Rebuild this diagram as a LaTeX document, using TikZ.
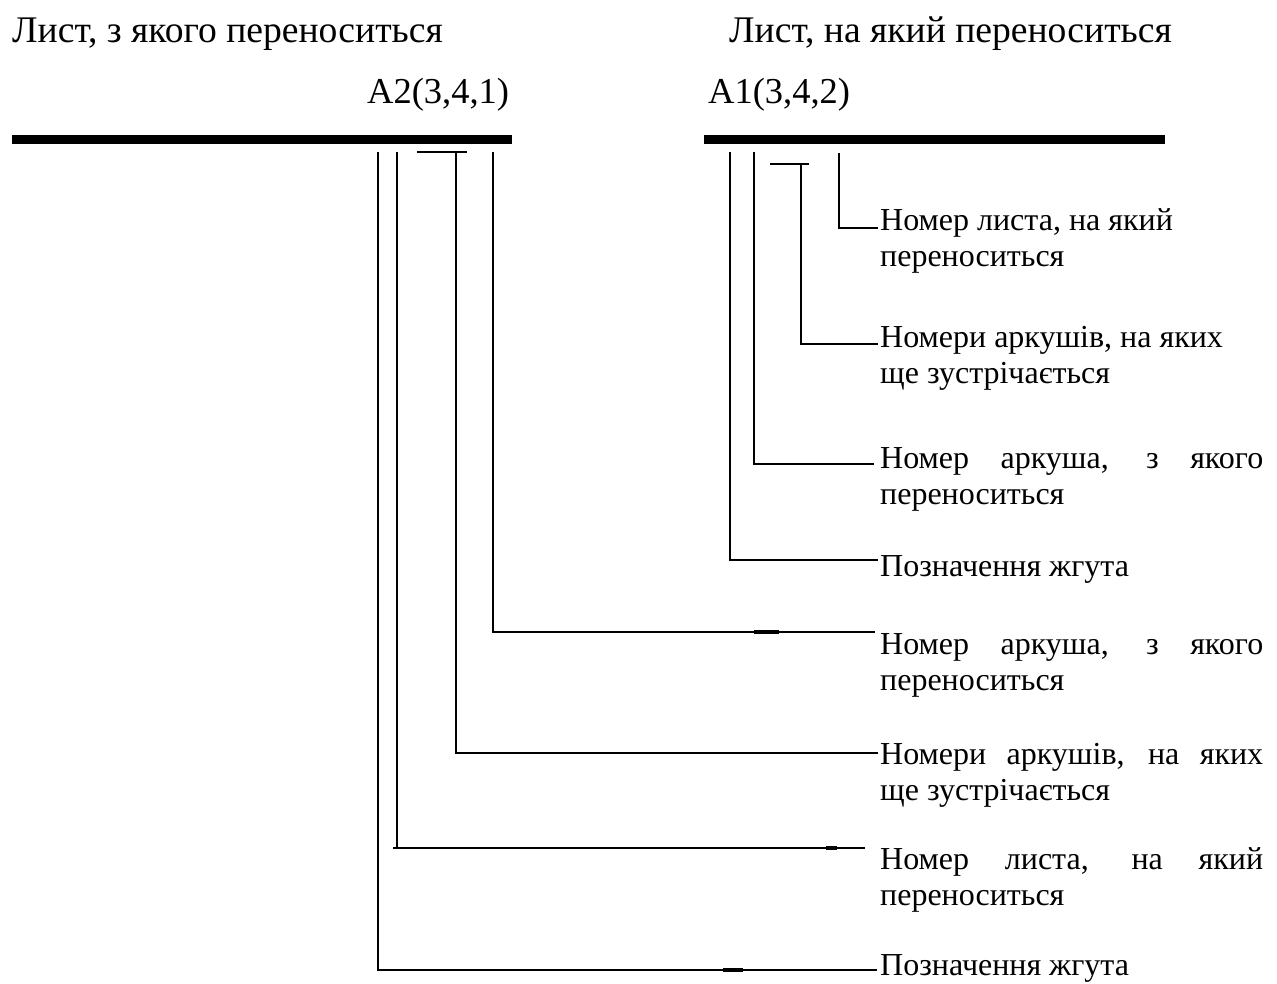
\documentclass[tikz,border=0pt]{standalone}
\usepackage{fontspec}
\setmainfont{Liberation Serif}
\tikzset{
  bar/.style={line width=8.5pt},
  lead/.style={line width=2pt},
  blob/.style={line width=3.2pt},
  txt/.style={inner sep=0pt, anchor=base west, font=\fontsize{32}{36}\selectfont},
  ttl/.style={inner sep=0pt, anchor=base west, font=\fontsize{37.6}{42}\selectfont},
  code/.style={inner sep=0pt, anchor=base west, font=\fontsize{36.5}{42}\selectfont},
}
\newcommand{\jline}[1]{\makebox[383pt][s]{#1}}
\begin{document}
\begin{tikzpicture}[x=1pt,y=-1pt]
\useasboundingbox (0,0) rectangle (1277,983);
% titles
\node[ttl] (t1) at (12,42) {Лист, з якого переноситься};
\node[ttl] (t2) at (729,42) {Лист, на який переноситься};
\node[code] (c2) at (367,103) {А2(3,4,1)};
\node[code] (c1) at (708,103) {А1(3,4,2)};
% bars
\coordinate (b1l) at (12,139.5); \coordinate (b1r) at (512,139.5);
\coordinate (b2l) at (704,139.5); \coordinate (b2r) at (1165,139.5);
\draw[bar] (b1l) -- (b1r);
\draw[bar] (b2l) -- (b2r);
% labels right top
\node[txt] (r1) at (880,230) {\parbox[t]{383pt}{Номер листа, на який\\переноситься}};
\node[txt] (r2) at (880,347) {\parbox[t]{383pt}{Номери аркушів, на яких\\ще зустрічається}};
\node[txt] (r3) at (880,468) {\parbox[t]{383pt}{\jline{Номер аркуша, з якого}\\переноситься}};
\node[txt] (r4) at (880,576) {Позначення жгута};
% labels lower
\node[txt] (l1) at (880,654) {\parbox[t]{383pt}{\jline{Номер аркуша, з якого}\\переноситься}};
\node[txt] (l2) at (880,764) {\parbox[t]{383pt}{\jline{Номери аркушів, на яких}\\ще зустрічається}};
\node[txt] (l3) at (880,869) {\parbox[t]{383pt}{\jline{Номер листа, на який}\\переноситься}};
\node[txt] (l4) at (880,975.5) {Позначення жгута};
% right lead tops
\coordinate (ra) at (730,152); \coordinate (rb) at (754,152);
\coordinate (rcl) at (770,164); \coordinate (rcr) at (809,164); \coordinate (rc) at (801,164);
\coordinate (rd) at (839,153);
\coordinate (ea) at (878,560); \coordinate (eb) at (874,464);
\coordinate (ec) at (878,344); \coordinate (ed) at (878,228);
\draw[lead] (rcl) -- (rcr);
\draw[lead] (rd) |- (ed);
\draw[lead] (rc) |- (ec);
\draw[lead] (rb) |- (eb);
\draw[lead] (ra) |- (ea);
% left lead tops
\coordinate (la) at (378,152); \coordinate (lb) at (397,152);
\coordinate (lcl) at (417,152); \coordinate (lcr) at (467,152); \coordinate (lc) at (456,152);
\coordinate (ld) at (493,152);
\coordinate (fa) at (877,970); \coordinate (fb) at (865,848);
\coordinate (fc) at (878,753); \coordinate (fd) at (875,632);
\coordinate (fbk) at (393,848);
\draw[lead] (lcl) -- (lcr);
\draw[lead] (ld) |- (fd);
\draw[lead] (lc) |- (fc);
\draw[lead] (lb) -- (lb |- fb);
\draw[lead] (fbk) -- (fb);
\draw[lead] (la) |- (fa);
% small overlaps
\coordinate (o1a) at (754,632); \coordinate (o1b) at (779,632);
\coordinate (o2a) at (826,848); \coordinate (o2b) at (837,848);
\coordinate (o3a) at (723,970); \coordinate (o3b) at (743,970);
\draw[blob] (o1a) -- (o1b);
\draw[blob] (o2a) -- (o2b);
\draw[blob] (o3a) -- (o3b);
\end{tikzpicture}
\end{document}
